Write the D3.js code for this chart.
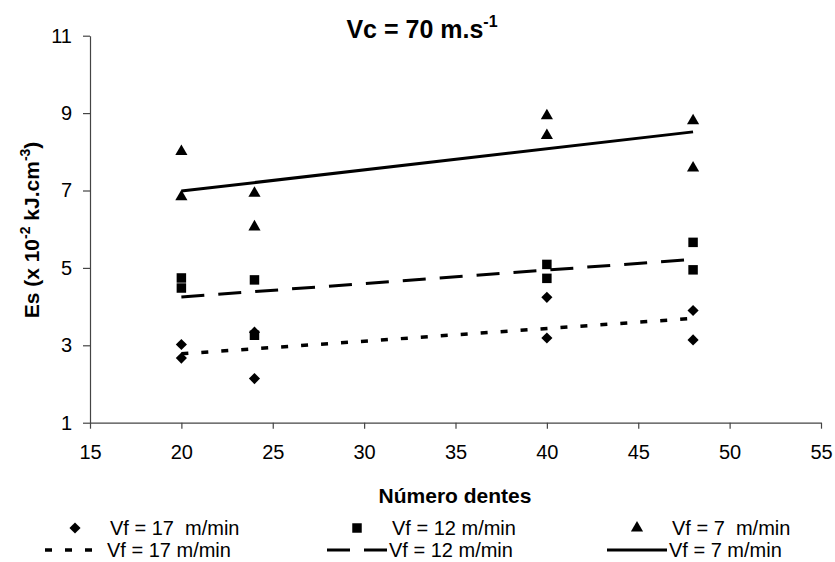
<!DOCTYPE html>
<html lang="en">
<head>
<meta charset="UTF-8">
<title>Vc = 70</title>
<script src="https://cdn.jsdelivr.net/npm/d3@7/dist/d3.min.js"></script>
<style>
  body { margin: 0; background: #fff; }
  text { font-family: "Liberation Sans", Arial, sans-serif; fill: #000; }
</style>
</head>
<body>
<div id="container"></div>
<script>
// data
let teeth = [20, 20, 24, 24, 40, 40, 48, 48];
let vf17 = [3.02, 2.67, 3.34, 2.14, 4.24, 3.19, 3.90, 3.14];
let vf12 = [4.74, 4.48, 4.69, 3.26, 5.09, 4.73, 5.66, 4.95];
let vf7 = [8.01, 6.84, 6.93, 6.06, 8.93, 8.42, 8.80, 7.58];
let xTicks = [15, 20, 25, 30, 35, 40, 45, 50, 55];
let yTicks = [1, 3, 5, 7, 9, 11];
let legendNames = ["Vf = 17  m/min", "Vf = 12 m/min", "Vf = 7  m/min"];
let trendNames = ["Vf = 17 m/min", "Vf = 12 m/min", "Vf = 7 m/min"];

let W = 835, H = 562;
let svg = d3.select('#container')
    .append('svg')
    .attr('width', W)
    .attr('height', H);

let x = d3.scaleLinear().domain([15, 55]).range([90, 821]);
let y = d3.scaleLinear().domain([1, 11]).range([422.7, 35.7]);

// axes
let gx = svg.append("g")
    .attr("transform", "translate(0," + y(1) + ")")
    .call(d3.axisBottom(x).tickValues(xTicks).tickSize(6).tickSizeOuter(0).tickPadding(16));
let gy = svg.append("g")
    .attr("transform", "translate(" + x(15) + ",0)")
    .call(d3.axisLeft(y).tickValues(yTicks).tickSize(7).tickSizeOuter(0).tickPadding(11));
[gx, gy].forEach(g => {
    g.selectAll("path, line").attr("stroke", "#444").attr("stroke-width", 1.2);
    g.selectAll("text").style("font-size", "20px").attr("fill", "#000")
        .style("font-family", '"Liberation Sans", Arial, sans-serif');
});

// least squares trend
function trend(xs, ys) {
    let mx = d3.mean(xs), my = d3.mean(ys);
    let sxy = d3.sum(xs, (v, i) => (v - mx) * (ys[i] - my));
    let sxx = d3.sum(xs, v => (v - mx) * (v - mx));
    let b = sxy / sxx, a = my - b * mx;
    let ext = d3.extent(xs);
    return ext.map(v => ({ x: v, y: a + b * v }));
}

// diamond = square turned 45 degrees
let series = [
    { vals: vf17, shape: d3.symbolSquare, size: 62, rot: 45, dash: "7,13", width: 3.5 },
    { vals: vf12, shape: d3.symbolSquare, size: 90, rot: 0, dash: "23,14", width: 3 },
    { vals: vf7, shape: d3.symbolTriangle, size: 64, rot: 0, dash: null, width: 3 }
];

let line = d3.line().x(d => x(d.x)).y(d => y(d.y));

series.forEach(s => {
    let pts = teeth.map((t, i) => ({ x: t, y: s.vals[i] }));
    svg.append("g").selectAll("path")
        .data(pts)
        .join("path")
        .attr("d", d3.symbol().type(s.shape).size(s.size))
        .attr("transform", d => "translate(" + x(d.x) + "," + y(d.y) + ") rotate(" + s.rot + ")")
        .attr("fill", "#000");
});

series.forEach(s => {
    svg.append("path")
        .datum(trend(teeth, s.vals))
        .attr("d", line)
        .attr("fill", "none")
        .attr("stroke", "#000")
        .attr("stroke-width", s.width)
        .attr("stroke-dasharray", s.dash);
});

// title
let title = svg.append("text")
    .attr("x", 422).attr("y", 38)
    .attr("text-anchor", "middle")
    .style("font-size", "25px").style("font-weight", "bold");
title.append("tspan").text("Vc = 70 m.s");
title.append("tspan").attr("dy", -11).style("font-size", "16px").text("-1");

// y label
let yl = svg.append("text")
    .attr("transform", "translate(39,230) rotate(-90)")
    .attr("text-anchor", "middle")
    .style("font-size", "21px").style("font-weight", "bold");
yl.append("tspan").text("Es (x 10");
yl.append("tspan").attr("dy", -9).style("font-size", "14px").text("-2");
yl.append("tspan").attr("dy", 9).text(" kJ.cm");
yl.append("tspan").attr("dy", -9).style("font-size", "14px").text("-3");
yl.append("tspan").attr("dy", 9).text(")");

// x label
svg.append("text")
    .attr("x", 455).attr("y", 503)
    .attr("text-anchor", "middle")
    .style("font-size", "21px").style("font-weight", "bold")
    .text("Número dentes");

// legend
let colX = [75, 357, 637];
series.forEach((s, i) => {
    svg.append("path")
        .attr("d", d3.symbol().type(s.shape).size(s.size))
        .attr("transform", "translate(" + colX[i] + ",528) rotate(" + s.rot + ")")
        .attr("fill", "#000");
    svg.append("text")
        .attr("x", colX[i] + 35).attr("y", 535)
        .attr("xml:space", "preserve")
        .style("font-size", "20px")
        .text(legendNames[i]);
    svg.append("line")
        .attr("x1", colX[i] - 30).attr("x2", colX[i] + 30)
        .attr("y1", 550).attr("y2", 550)
        .attr("stroke", "#000")
        .attr("stroke-width", s.width)
        .attr("stroke-dasharray", s.dash);
    svg.append("text")
        .attr("x", colX[i] + 32).attr("y", 557)
        .style("font-size", "20px")
        .text(trendNames[i]);
});
</script>
</body>
</html>
